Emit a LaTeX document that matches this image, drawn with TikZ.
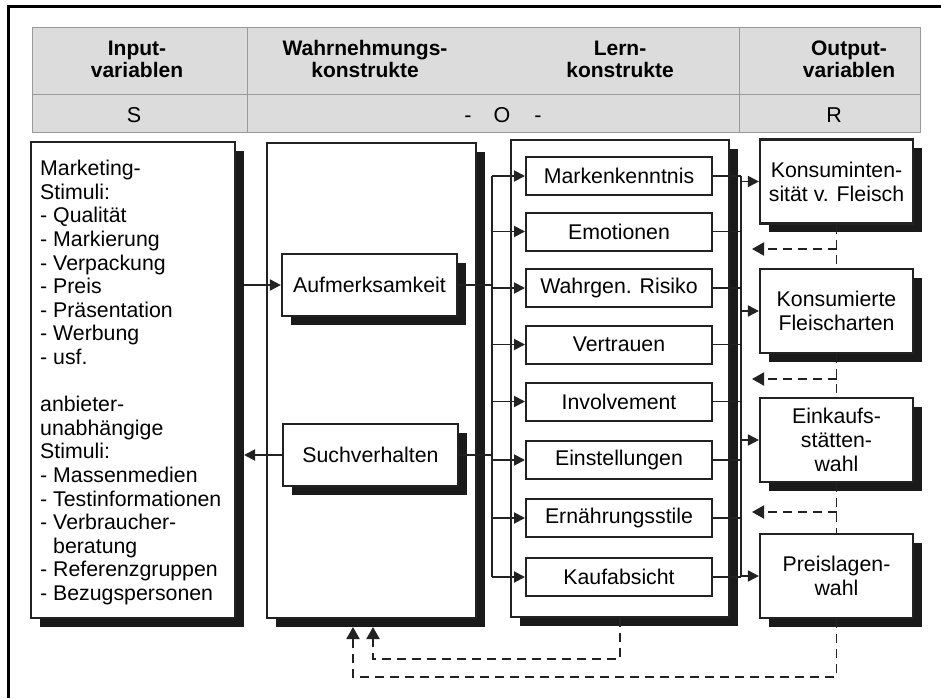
\documentclass[tikz,border=0pt]{standalone}
\usepackage{fontspec}
\setmainfont{Liberation Sans}
\usetikzlibrary{arrows.meta,shadows}

\definecolor{edge}{HTML}{222222}
\definecolor{shade}{HTML}{1A1A1A}
\definecolor{headfill}{HTML}{DCDCDC}
\definecolor{headline}{HTML}{9A9A9A}

\newcommand{\bodyfont}{\fontsize{21.3}{23.6}\selectfont}
\newcommand{\boxfont}{\fontsize{21.3}{24}\selectfont}
\newcommand{\headfont}{\fontsize{21}{22}\selectfont\bfseries}

\begin{document}
\begin{tikzpicture}[x=1pt,y=-1pt,
  panel/.style={draw=edge, line width=2.2pt, fill=white, inner sep=0pt,
    drop shadow={shadow xshift=8.5pt, shadow yshift=-8.5pt, fill=shade, opacity=1}},
  midbox/.style={panel, minimum width=175pt, minimum height=62pt, font=\bodyfont},
  outbox/.style={panel, minimum width=153pt, minimum height=84pt, align=center, font=\boxfont},
  innerbox/.style={draw=edge, line width=2pt, fill=white, minimum width=186pt,
    minimum height=38pt, inner sep=0pt, font=\bodyfont},
  headtext/.style={align=center, font=\headfont, inner sep=0pt},
  rowtext/.style={font=\fontsize{21.5}{24}\selectfont, inner sep=0pt},
  wire/.style={draw=edge, line width=1.9pt},
  arr/.style={wire, -{Triangle[length=11pt,width=11pt]}},
  fb/.style={draw=edge, line width=1.9pt, dash pattern=on 9pt off 6pt},
  fbarr/.style={fb, -{Triangle[length=12pt,width=13pt]}}
]
\useasboundingbox (0,0) rectangle (941,698);
\fill[white] (0,0) rectangle (941,698);

% outer frame (top and left edge)
\draw[line width=3pt, black] (8,6.5) -- (941,6.5);
\draw[line width=2.5pt, black] (8.5,5) -- (8.5,698);

% header table
\draw[fill=headfill, draw=headline, line width=1pt] (32,28) rectangle (920,132);
\draw[headline, line width=1pt] (32,95) -- (920,95);
\draw[headline, line width=1pt] (247,28) -- (247,132);
\draw[headline, line width=1pt] (739,28) -- (739,132);

\node[headtext] (hin)  at (137,59) {Input-\\variablen};
\node[headtext] (hwa)  at (365,59) {Wahrnehmungs-\\konstrukte};
\node[headtext] (hle)  at (620,59) {Lern-\\konstrukte};
\node[headtext] (hout) at (849,59) {Output-\\variablen};

\node[rowtext] (rs) at (134,115.5) {S};
\node[rowtext] (ro) at (503,115.5) {-\hspace{22pt}O\hspace{24pt}-};
\node[rowtext] (rr) at (834,115.5) {R};

% main panels
\node[panel, minimum width=204pt, minimum height=476pt] (inbox) at (133,380) {};
\node[panel, minimum width=209pt, minimum height=475pt] (wbox)  at (371.5,380.5) {};
\node[panel, minimum width=218pt, minimum height=477pt] (lbox)  at (620,378.5) {};

\node[anchor=north west, inner sep=0pt, align=left, font=\bodyfont] (intext) at (40,160) {%
Marketing-\\
Stimuli:\\
- Qualität\\
- Markierung\\
- Verpackung\\
- Preis\\
- Präsentation\\
- Werbung\\
- usf.\\[23.6pt]
anbieter-\\
unabhängige\\
Stimuli:\\
- Massenmedien\\
- Testinformationen\\
- Verbraucher-\\
\hphantom{- }beratung\\
- Referenzgruppen\\
- Bezugspersonen};

% perception constructs
\node[midbox] (auf)   at (369.5,285) {Aufmerksamkeit};
\node[midbox] (such)  at (370.5,455) {Suchverhalten};

% learning constructs
\node[innerbox] (m1) at (619,176)   {Markenkenntnis};
\node[innerbox] (m2) at (619,231.5) {Emotionen};
\node[innerbox] (m3) at (619,288)   {Wahrgen. Risiko};
\node[innerbox] (m4) at (619,344.5) {Vertrauen};
\node[innerbox] (m5) at (619,401.5) {Involvement};
\node[innerbox] (m6) at (619,460)   {Einstellungen};
\node[innerbox] (m7) at (619,518)   {Ernährungsstile};
\node[innerbox] (m8) at (619,577)   {Kaufabsicht};

% output variables
\node[outbox] (o1) at (836.5,181.5) {Konsuminten-\\sität v. Fleisch};
\node[outbox] (o2) at (836.5,311)   {Konsumierte\\Fleischarten};
\node[outbox] (o3) at (836.5,440)   {Einkaufs-\\stätten-\\wahl};
\node[outbox] (o4) at (836.5,576)   {Preislagen-\\wahl};

% helper coordinates
\coordinate (inS)  at (244,0);
\coordinate (busL) at (492,0);
\coordinate (busR) at (741,0);
\coordinate (tipR) at (752,0);

% stimuli -> attention, search -> stimuli
\draw[arr] (inS |- auf.west) -- (auf.west);
\draw[arr] (such.west) -- (such.west -| inS);

% perception -> learning bus
\draw[wire] (auf.east) -- (auf.east -| busL);
\draw[wire] (such.east) -- (such.east -| busL);
\draw[wire] (busL |- m1.west) -- (busL |- m8.west);
\foreach \m in {m1,m2,m3,m4,m5,m6,m7,m8}
  \draw[arr] (busL |- \m.west) -- (\m.west);

% learning -> output bus
\foreach \m in {m1,m2,m3,m4,m5,m6,m7,m8}
  \draw[wire] (\m.east) -- (\m.east -| busR);
\draw[wire] (busR |- m1.east) -- (busR |- m8.east);
\foreach \o in {o1,o2,o3,o4}
  \draw[arr] (busR |- \o.west) -- (\o.west);

% feedback between outputs
\coordinate (f1) at (836.5,249);
\coordinate (f2) at (836.5,379);
\coordinate (f3) at (836.5,512);
\draw[fb] (o1.south) -- (o2.north);
\draw[fb] (o2.south) -- (o3.north);
\draw[fb] (o3.south) -- (o4.north);
\draw[fbarr] (f1) -- (f1 -| tipR);
\draw[fbarr] (f2) -- (f2 -| tipR);
\draw[fbarr] (f3) -- (f3 -| tipR);

% feedback loops to perception
\coordinate (b1) at (836.5,677);
\coordinate (b2) at (620,659);
\coordinate (t1) at (353,627);
\coordinate (t2) at (373,627);
\draw[fbarr] (o4.south) -- (b1) -- (b1 -| t1) -- (t1);
\draw[fbarr] (lbox.south) -- (b2) -- (b2 -| t2) -- (t2);

\end{tikzpicture}
\end{document}
